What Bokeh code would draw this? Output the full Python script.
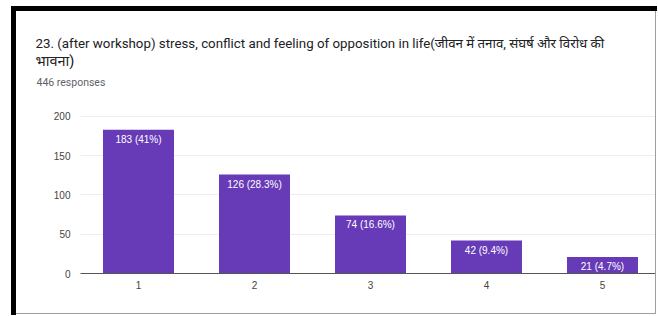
from bokeh.plotting import figure
from bokeh.models import ColumnDataSource, Range1d, FixedTicker, Title, Spacer
from bokeh.layouts import row, column
from bokeh.embed import file_html
from bokeh.resources import INLINE
from bokeh.core.properties import value

categories = ["1", "2", "3", "4", "5"]
counts = [183, 126, 74, 42, 21]
percents = ["41%", "28.3%", "16.6%", "9.4%", "4.7%"]
y_ticks = [0, 50, 100, 150, 200]
title_line1 = "23. (after workshop) stress, conflict and feeling of opposition in life(जीवन में तनाव, संघर्ष और विरोध की"
title_line2 = "भावना)"
subtitle = "446 responses"

xs = list(range(1, len(categories) + 1))
labels = [f"{c} ({q})" for c, q in zip(counts, percents)]
src = ColumnDataSource(dict(x=xs, top=counts, label=labels))

title_font = "Roboto, Noto Sans Devanagari, Noto Sans"

p = figure(width=639, height=302, output_backend="svg", toolbar_location=None,
           x_range=Range1d(0.5, 5.457), y_range=Range1d(0, 207.6),
           min_border_left=64, min_border_right=0, min_border_top=99, min_border_bottom=40)
p.title.text = ""
p.outline_line_color = None

p.vbar(x="x", top="top", bottom=0, width=0.612, source=src,
       fill_color="#673ab7", line_color=None)
p.text(x="x", y="top", text="label", source=src, text_align="center", text_baseline="top",
       y_offset=4, text_color="white", text_font_size="10px", text_font=value("Liberation Sans"))

p.xaxis.ticker = FixedTicker(ticks=xs)
p.xaxis.major_label_overrides = {x: c for x, c in zip(xs, categories)}
p.xaxis.axis_line_color = "#555555"
p.xaxis.major_tick_line_color = None
p.xaxis.minor_tick_line_color = None
p.xaxis.major_tick_out = 0
p.xaxis.major_tick_in = 0
p.xaxis.major_label_standoff = 7
p.xaxis.major_label_text_font = "Liberation Sans"
p.xaxis.major_label_text_font_size = "10px"
p.xaxis.major_label_text_color = "#444444"

p.yaxis.ticker = FixedTicker(ticks=y_ticks)
p.yaxis.axis_line_color = None
p.yaxis.major_tick_line_color = None
p.yaxis.minor_tick_line_color = None
p.yaxis.major_tick_out = 0
p.yaxis.major_tick_in = 0
p.yaxis.major_label_standoff = 10
p.yaxis.major_label_text_font = "Liberation Sans"
p.yaxis.major_label_text_font_size = "10px"
p.yaxis.major_label_text_color = "#444444"

p.xgrid.visible = False
p.ygrid.grid_line_color = "#eeeeee"

# stacked from the plot frame upwards
p.add_layout(Title(text=" ", align="left", offset=-45, standoff=10,
                   text_font_size="1px"), "above")
p.add_layout(Title(text=subtitle, align="left", offset=-44, standoff=18,
                   text_font=title_font, text_font_size="10.5px", text_font_style="normal",
                   text_color="#5f6368"), "above")
p.add_layout(Title(text=title_line2, align="left", offset=-45, standoff=-10,
                   text_font=title_font, text_font_size="14.5px", text_font_style="normal",
                   text_color="#202124"), "above")
p.add_layout(Title(text=title_line1, align="left", offset=-45, standoff=9,
                   text_font=title_font, text_font_size="13.3px", text_font_style="normal",
                   text_color="#202124"), "above")

black = {"background-color": "#000000"}
gray = {"background-color": "#9e9e9e"}
layout = column(
    Spacer(width=657, height=6),
    row(Spacer(width=11, height=5), Spacer(width=646, height=5, styles=black)),
    row(Spacer(width=11, height=304), Spacer(width=5, height=304, styles=black),
        column(row(p, Spacer(width=1, height=302, styles=gray)),
               Spacer(width=640, height=1, styles=gray))),
)

open("out.html", "w").write(file_html(layout, INLINE))
